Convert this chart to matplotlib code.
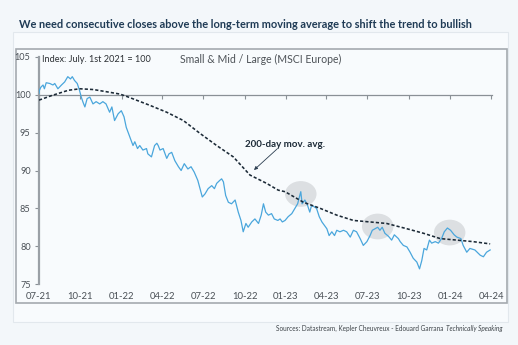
import numpy as np
import matplotlib.pyplot as plt
from matplotlib.patches import Ellipse, Rectangle

plt.rcParams['font.family'] = ['Lato', 'DejaVu Sans']

# --- data -----------------------------------------------------------------
start = np.datetime64('2021-07-01')

# index, days since 2021-07-01
idx_days = [0, 1, 4, 9, 12, 16, 24, 31, 35, 42, 50, 57, 64, 70, 74, 79, 85, 90,
            94, 98, 102, 107, 113, 120, 127, 135, 142, 149, 157, 162, 168, 176,
            183, 189, 194, 202, 209, 213, 219, 224, 231, 239, 242, 250, 257, 262,
            265, 269, 276, 284, 289, 295, 302, 310, 316, 323, 331, 338, 345, 353,
            358, 363, 369, 376, 384, 390, 395, 402, 406, 410, 415, 421, 428, 436,
            443, 449, 454, 460, 465, 473, 480, 488, 494, 499, 504, 510, 517, 523,
            531, 536, 541, 547, 554, 562, 569, 575, 578, 582, 585, 591, 597, 602,
            606, 612, 617, 623, 629, 634, 640, 645, 651, 657, 662, 669, 677, 684,
            692, 699, 706, 714, 721, 729, 736, 741, 747, 753, 758, 763, 769, 777,
            784, 790, 799, 803, 810, 818, 825, 832, 840, 846, 851, 856, 862, 868,
            873, 881, 888, 895, 901, 908, 915, 923, 929, 938, 943, 951, 958, 969,
            981, 988, 995, 1003]
idx_vals = [100.2, 100.6, 101.0, 101.3, 100.8, 101.6, 101.5, 101.3, 101.5, 100.8,
            101.3, 101.7, 102.4, 102.1, 102.4, 101.9, 101.5, 100.6, 99.7, 99.0,
            98.4, 99.5, 99.7, 98.8, 99.1, 98.8, 99.1, 98.8, 97.7, 98.4, 96.6, 97.5,
            97.9, 97.1, 95.7, 94.4, 93.3, 93.8, 92.9, 93.3, 92.7, 92.9, 92.2, 91.8,
            93.3, 93.6, 93.3, 92.7, 92.9, 91.6, 92.2, 92.4, 91.3, 90.5, 90.0, 90.9,
            90.2, 90.5, 89.8, 88.7, 87.6, 86.5, 86.9, 87.6, 88.0, 87.6, 88.3, 88.7,
            88.9, 88.5, 86.7, 85.8, 85.6, 86.1, 84.5, 83.4, 81.9, 83.0, 82.5, 83.2,
            83.6, 83.0, 84.1, 85.6, 84.5, 84.1, 84.3, 83.6, 83.4, 83.6, 83.2, 83.4,
            83.9, 84.3, 85.0, 85.6, 86.3, 87.2, 85.6, 86.1, 85.4, 84.5, 85.4, 85.2,
            85.0, 83.9, 83.2, 82.8, 82.3, 81.4, 81.9, 81.4, 82.1, 81.9, 82.1, 81.9,
            81.2, 82.1, 81.9, 81.0, 80.1, 80.6, 81.4, 82.1, 82.3, 82.5, 82.1, 82.5,
            81.7, 81.3, 80.8, 81.5, 81.0, 80.6, 80.1, 79.9, 79.2, 78.4, 77.9, 77.0,
            78.1, 79.7, 79.5, 80.8, 80.4, 80.6, 80.4, 81.0, 81.9, 82.4, 82.1, 81.5,
            81.2, 81.0, 80.1, 79.2, 79.7, 79.5, 78.8, 78.6, 79.2, 79.5]

# 200-day moving average
ma_days = [0, 28, 65, 91, 121, 151, 180, 199, 247, 284, 321, 358, 395, 432, 469,
           506, 532, 547, 588, 625, 662, 699, 736, 773, 818, 855, 892, 929, 965, 1003]
ma_vals = [99.3, 99.9, 100.6, 100.8, 100.7, 100.4, 100.1, 99.7, 98.6, 97.7, 96.6,
           94.9, 93.3, 91.8, 89.4, 88.3, 87.4, 87.2, 85.8, 85.0, 84.1, 83.4, 83.2,
           83.0, 82.3, 81.7, 81.0, 80.8, 80.6, 80.3]

# highlighted zones: centre day, centre value
zone_days = [582, 753, 913]
zone_vals = [86.9, 82.6, 81.8]

tick_labels = ['07-21', '10-21', '01-22', '04-22', '07-22', '10-22', '01-23',
               '04-23', '07-23', '10-23', '01-24', '04-24']
y_ticks = [75, 80, 85, 90, 95, 100, 105]

# --- figure ---------------------------------------------------------------
W, H = 518, 345
fig = plt.figure(figsize=(W / 100, H / 100), dpi=100, facecolor='#f3f7fa')

fig.add_artist(Rectangle((13 / W, 1 - 322 / H), 495 / W, 290 / H, transform=fig.transFigure,
                         fc='#f8fbfd', ec='#e2e8ed', lw=0.8, zorder=-2))
fig.add_artist(Rectangle((16 / W, 1 - 303 / H), 491 / W, 254 / H, transform=fig.transFigure,
                         fill=False, ec='#a4aaaf', lw=1.2, zorder=-1))

fig.text(19 / W, 1 - 25 / H,
         'We need consecutive closes above the long-term moving average to shift the trend to bullish',
         fontsize=7.9, fontweight='bold', color='#1f3b55', va='center', ha='left')

ax = fig.add_axes([39 / W, 1 - 284 / H, (491.5 - 39) / W, (284 - 57) / H])
ax.set_facecolor('none')

x_idx = start + np.array(idx_days, dtype='timedelta64[D]')
x_ma = start + np.array(ma_days, dtype='timedelta64[D]')
x_end = start + np.timedelta64(1006, 'D')

for d, v in zip(zone_days, zone_vals):
    e = Ellipse((start + np.timedelta64(d, 'D'), v), width=np.timedelta64(71, 'D'),
                height=3.4, fc='#dcdfe2', ec='none', zorder=1)
    ax.add_patch(e)

ax.plot(x_idx, idx_vals, color='#4aa6dc', lw=0.9, zorder=3)
ax.plot(x_ma, ma_vals, color='#1c2a37', lw=1.15, ls=(0, (2.0, 1.3)), zorder=4)

ax.set_xlim(start, x_end)
ax.set_ylim(75, 105)

tick_pos = [np.datetime64('20' + t[3:] + '-' + t[:2] + '-01') for t in tick_labels]
ax.set_xticks(tick_pos)
ax.set_xticklabels([])
ax.spines['bottom'].set_position(('data', 100))
ax.spines['bottom'].set_color('#8a9096')
ax.spines['bottom'].set_linewidth(0.9)
ax.spines['top'].set_visible(False)
ax.spines['right'].set_visible(False)
ax.spines['left'].set_color('#9aa0a6')
ax.spines['left'].set_linewidth(1.6)
ax.tick_params(axis='x', direction='out', length=3, color='#8a9096', width=0.8)
ax.set_yticks(y_ticks)
ax.tick_params(axis='y', direction='out', length=3, color='#8a9096', width=0.8,
               labelsize=6.6, labelcolor='#4a5056', pad=3)

# labels for x along the bottom
ax2 = ax.twiny()
ax2.set_xlim(start, x_end)
ax2.xaxis.set_ticks_position('bottom')
ax2.xaxis.set_label_position('bottom')
ax2.set_xticks(tick_pos)
ax2.set_xticklabels(tick_labels)
ax2.tick_params(axis='x', length=0, labelsize=6.8, labelcolor='#4a5056', pad=6)
for s in ax2.spines.values():
    s.set_visible(False)

ax.text(42 / W, 1 - 60 / H, 'Index: July. 1st 2021 = 100', transform=fig.transFigure,
        fontsize=6.6, color='#2b2f33', va='center', ha='left')
ax.text(261 / W, 1 - 59 / H, 'Small & Mid / Large (MSCI Europe)', transform=fig.transFigure,
        fontsize=7.6, color='#4e5358', va='center', ha='center')

ax.annotate('200-day mov. avg.', xy=(254 / W, 1 - 170 / H), xycoords='figure fraction',
            xytext=(245 / W, 1 - 147 / H), textcoords='figure fraction',
            fontsize=7, fontweight='bold', color='#1c2a37', ha='left', va='baseline',
            arrowprops=dict(arrowstyle='-|>', color='#2c3e50', lw=0.6,
                            shrinkA=0, shrinkB=0, mutation_scale=5,
                            patchA=None, relpos=(0.4, 0)))

# source line, italic tail
t_it = fig.text(503 / W, 1 - 328 / H, 'Technically Speaking', fontsize=4.7, style='italic',
                color='#3e4449', ha='right', va='center')
fig.canvas.draw()
bb = t_it.get_window_extent()
fig.text((bb.x0 - 2.5) / W, 1 - 328 / H,
         'Sources: Datastream, Kepler Cheuvreux - Edouard Garrana', fontsize=4.7,
         color='#3e4449', ha='right', va='center')

fig.savefig('out.png', dpi=100, facecolor=fig.get_facecolor())
